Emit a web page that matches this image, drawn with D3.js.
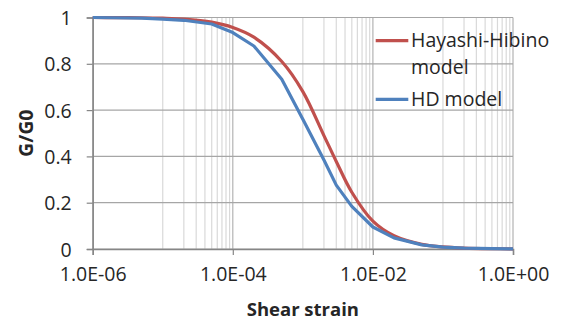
<!DOCTYPE html>
<html>
<head>
<meta charset="utf-8">
<script src="https://cdn.jsdelivr.net/npm/d3@7"></script>
<style>
  html, body { margin: 0; padding: 0; background: #fff; }
  svg { display: block; }
  text { font-family: "Open Sans", "Liberation Sans", sans-serif; fill: #262626; }
</style>
</head>
<body>
<svg id="chart" width="577" height="320"></svg>
<script>
// ---- data ----
const strain = [1e-6, 2e-6, 5e-6, 1e-5, 2e-5, 5e-5, 1e-4, 2e-4, 5e-4, 1e-3, 2e-3, 3e-3, 5e-3, 1e-2, 2e-2, 5e-2, 1e-1, 2e-1, 5e-1, 1];
const hayashiHibino = [1.0, 0.9995, 0.999, 0.997, 0.993, 0.98, 0.957, 0.915, 0.81, 0.68, 0.49, 0.378, 0.245, 0.12, 0.057, 0.02, 0.009, 0.004, 0.0015, 0.0008];
const hdModel = [1.0, 0.999, 0.997, 0.993, 0.988, 0.972, 0.935, 0.877, 0.733, 0.56, 0.384, 0.276, 0.184, 0.095, 0.048, 0.018, 0.008, 0.004, 0.0015, 0.0008];
const seriesNames = ["Hayashi-Hibino model", "HD model"];
const xTickValues = [1e-6, 1e-4, 1e-2, 1];
const xTickLabels = ["1.0E-06", "1.0E-04", "1.0E-02", "1.0E+00"];
const yTickValues = [0, 0.2, 0.4, 0.6, 0.8, 1];
const yTickLabels = ["0", "0.2", "0.4", "0.6", "0.8", "1"];
const xTitle = "Shear strain";
const yTitle = "G/G0";

// ---- layout ----
const svg = d3.select("#chart");
const pLeft = 92.7, pRight = 513, pTop = 17.5, pBottom = 249;
const x = d3.scaleLog().domain([1e-6, 1]).range([pLeft, pRight]);
const y = d3.scaleLinear().domain([0, 1]).range([pBottom, pTop]);

// minor vertical gridlines (decades 1e-5..1e-4, 1e-3..1e-2, 1e-1..1e0)
const minorDecades = [-5, -3, -1];
const minorVals = [];
minorDecades.forEach(d => { for (let k = 1; k <= 9; k++) minorVals.push(k * Math.pow(10, d)); });
svg.append("g").selectAll("line").data(minorVals).join("line")
  .attr("x1", d => x(d)).attr("x2", d => x(d))
  .attr("y1", pTop).attr("y2", pBottom)
  .attr("stroke", "#d9d9d9").attr("stroke-width", 1.2);

// major vertical gridlines
svg.append("g").selectAll("line").data(xTickValues).join("line")
  .attr("x1", d => x(d)).attr("x2", d => x(d))
  .attr("y1", pTop).attr("y2", pBottom)
  .attr("stroke", "#b3b3b3").attr("stroke-width", 1.2);

// horizontal gridlines
svg.append("g").selectAll("line").data(yTickValues).join("line")
  .attr("x1", pLeft).attr("x2", pRight)
  .attr("y1", d => y(d)).attr("y2", d => y(d))
  .attr("stroke", "#a6a6a6").attr("stroke-width", 1.2);

// axes
const xAxis = svg.append("g").attr("transform", `translate(0,${pBottom})`)
  .call(d3.axisBottom(x).tickValues(xTickValues).tickFormat((d, i) => xTickLabels[i]).tickSize(6).tickPadding(12));
const yAxis = svg.append("g").attr("transform", `translate(${pLeft},0)`)
  .call(d3.axisLeft(y).tickValues(yTickValues).tickFormat((d, i) => yTickLabels[i]).tickSize(6).tickPadding(15));
[xAxis, yAxis].forEach(g => {
  g.select(".domain").attr("stroke", "#868686").attr("stroke-width", 1.5);
  g.selectAll(".tick line").attr("stroke", "#868686").attr("stroke-width", 1.2);
  g.selectAll(".tick text").attr("font-size", 19.5).attr("font-family", "Open Sans").attr("fill", "#262626");
});
yAxis.selectAll(".tick text").attr("dy", "0.36em");

// series
const lineGen = (vals, curve) => d3.line()
  .x((d, i) => x(strain[i]))
  .y(d => y(d))
  .curve(curve)(vals);
svg.append("path").attr("d", lineGen(hayashiHibino, d3.curveCatmullRom.alpha(0.5)))
  .attr("fill", "none").attr("stroke", "#c0504d").attr("stroke-width", 3.2).attr("stroke-linejoin", "round");
svg.append("path").attr("d", lineGen(hdModel, d3.curveLinear))
  .attr("fill", "none").attr("stroke", "#4f81bd").attr("stroke-width", 3.2).attr("stroke-linejoin", "round");

// axis titles
svg.append("text").attr("x", (pLeft + pRight) / 2).attr("y", 316)
  .attr("text-anchor", "middle").attr("font-size", 18.5).attr("font-weight", "bold").text(xTitle);
svg.append("text").attr("transform", `translate(33,${(pTop + pBottom) / 2}) rotate(-90)`)
  .attr("text-anchor", "middle").attr("font-size", 19.5).attr("font-weight", "bold").text(yTitle);

// legend
const legend = svg.append("g");
const legColors = ["#c0504d", "#4f81bd"];
const legY = [40.7, 99.3];
legend.selectAll("line").data(seriesNames).join("line")
  .attr("x1", 375.7).attr("x2", 408.3)
  .attr("y1", (d, i) => legY[i]).attr("y2", (d, i) => legY[i])
  .attr("stroke", (d, i) => legColors[i]).attr("stroke-width", 3.2);
const t1 = legend.append("text").attr("x", 411).attr("y", 46.7).attr("font-size", 19.5);
t1.append("tspan").attr("x", 411).attr("y", 46.7).text("Hayashi-Hibino");
t1.append("tspan").attr("x", 411).attr("y", 74).text("model");
legend.append("text").attr("x", 411).attr("y", 106).attr("font-size", 19.5).text(seriesNames[1]);
</script>
</body>
</html>
